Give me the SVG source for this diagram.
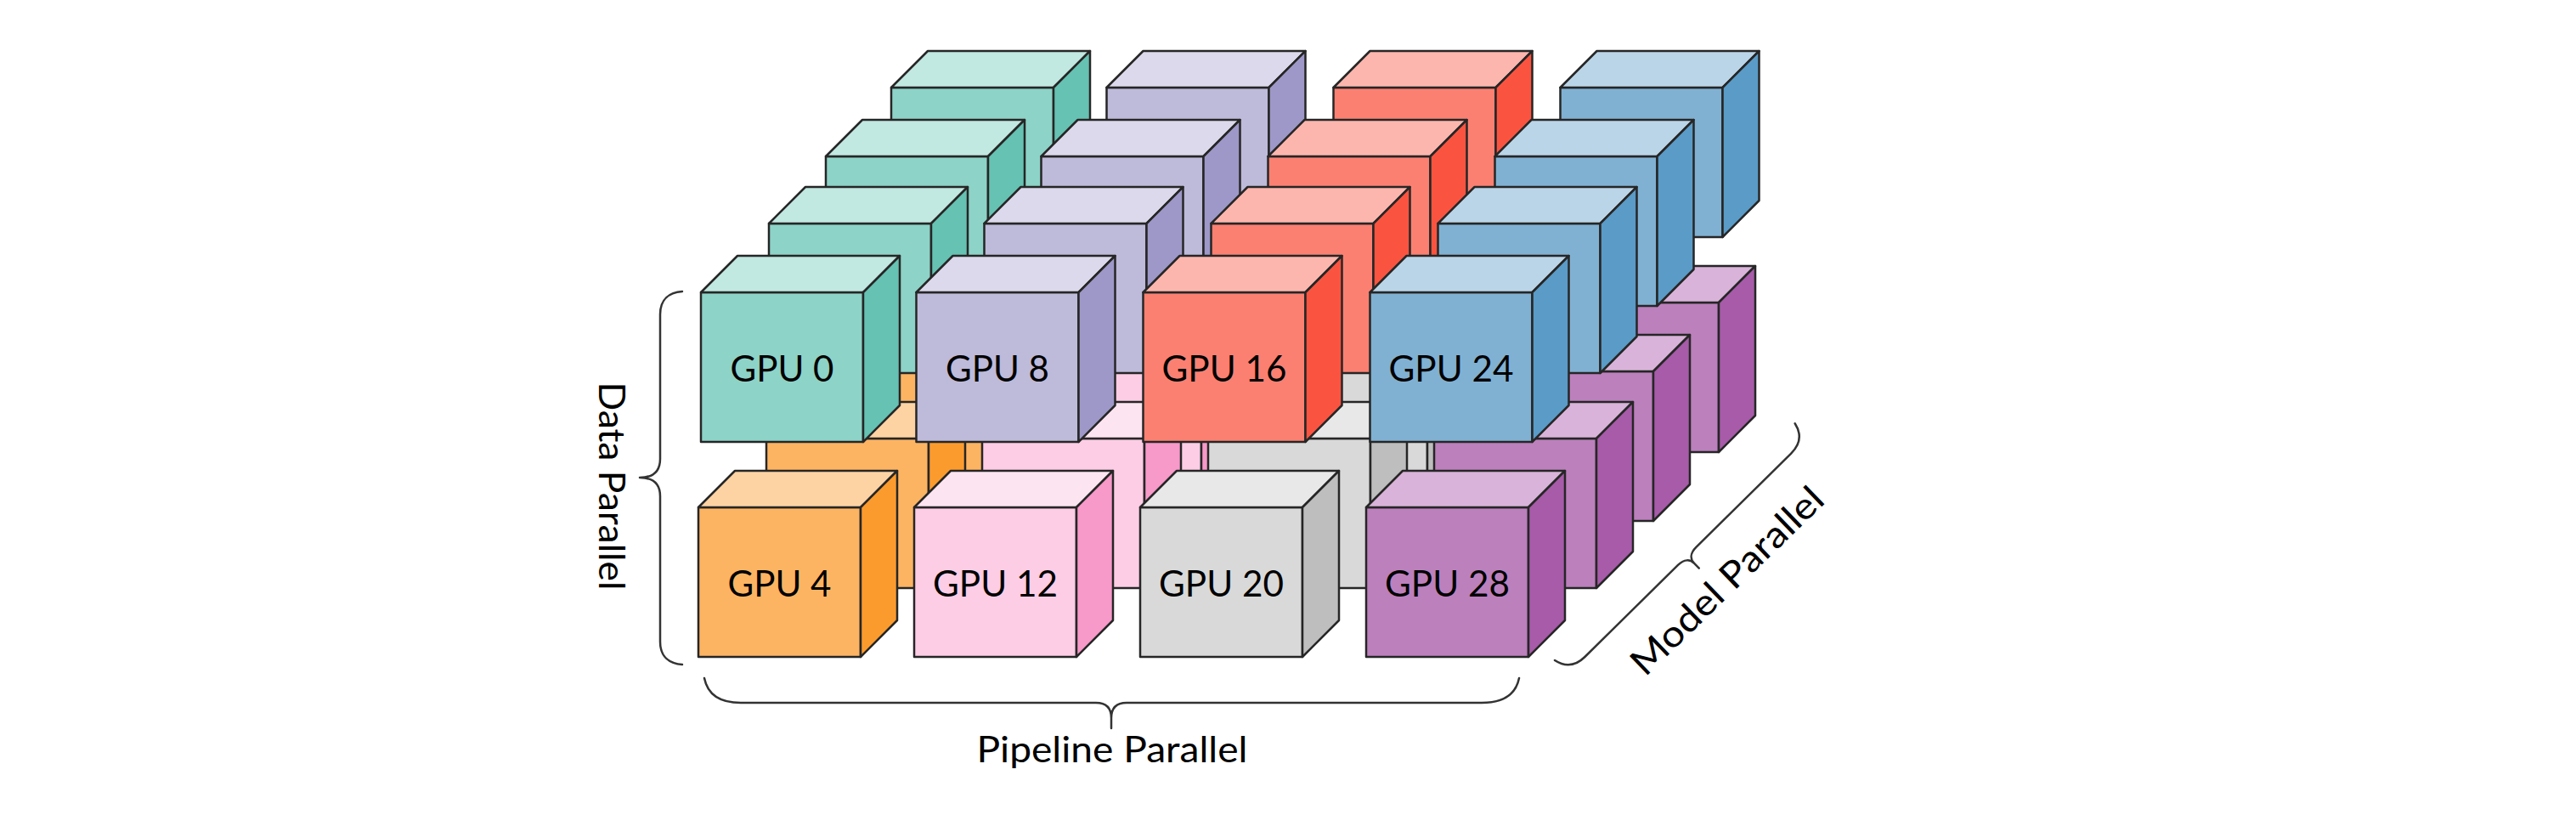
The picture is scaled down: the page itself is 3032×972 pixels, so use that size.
<svg xmlns="http://www.w3.org/2000/svg" xmlns:xlink="http://www.w3.org/1999/xlink" width="3032" height="972" viewBox="0 0 3032 972">
<defs>
<path id="cf" d="M0,0H191V176H0Z"/>
<path id="ct" d="M0,0L43,-43H234L191,0Z"/>
<path id="cs" d="M191,0L234,-43V133L191,176Z"/>
</defs>
<style>
.cube use{stroke:#262626;stroke-width:2.5;stroke-linejoin:round}
.teal .f{fill:#8DD3C7}.teal .t{fill:#C1E8E1}.teal .s{fill:#66C2B3}
.lav .f{fill:#BEBADA}.lav .t{fill:#DBD9EB}.lav .s{fill:#9E98C8}
.red .f{fill:#FB8072}.red .t{fill:#FDB6AE}.red .s{fill:#FA5441}
.blue .f{fill:#80B1D3}.blue .t{fill:#BBD5E8}.blue .s{fill:#5A9BC7}
.org .f{fill:#FDB462}.org .t{fill:#FED3A3}.org .s{fill:#FC9B2D}
.pink .f{fill:#FCCDE5}.pink .t{fill:#FDE4F1}.pink .s{fill:#F799C9}
.gray .f{fill:#D9D9D9}.gray .t{fill:#E8E8E8}.gray .s{fill:#BEBEBE}
.pur .f{fill:#BC80BD}.pur .t{fill:#D9B3D9}.pur .s{fill:#A75BA9}
.lbl{font-family:Lato,"Liberation Sans",sans-serif;font-size:43px;fill:#000;text-anchor:middle}
.brace{fill:none;stroke:#333;stroke-width:2.5;stroke-linecap:round;stroke-linejoin:round}
</style>
<rect width="3032" height="972" fill="#fff"/>
<g id="cubes">
<!-- depth 3 -->
<g id="gpu-3" class="cube teal" transform="translate(1049,103)"><use href="#cf" class="f"/><use href="#ct" class="t"/><use href="#cs" class="s"/></g>
<g id="gpu-11" class="cube lav" transform="translate(1302.5,103)"><use href="#cf" class="f"/><use href="#ct" class="t"/><use href="#cs" class="s"/></g>
<g id="gpu-19" class="cube red" transform="translate(1569.5,103)"><use href="#cf" class="f"/><use href="#ct" class="t"/><use href="#cs" class="s"/></g>
<g id="gpu-27" class="cube blue" transform="translate(1836.5,103)"><use href="#cf" class="f"/><use href="#ct" class="t"/><use href="#cs" class="s"/></g>
<g id="gpu-7" class="cube org" transform="translate(1046,356)"><use href="#cf" class="f"/><use href="#ct" class="t"/><use href="#cs" class="s"/></g>
<g id="gpu-15" class="cube pink" transform="translate(1300,356)"><use href="#cf" class="f"/><use href="#ct" class="t"/><use href="#cs" class="s"/></g>
<g id="gpu-23" class="cube gray" transform="translate(1566,356)"><use href="#cf" class="f"/><use href="#ct" class="t"/><use href="#cs" class="s"/></g>
<g id="gpu-31" class="cube pur" transform="translate(1832,356)"><use href="#cf" class="f"/><use href="#ct" class="t"/><use href="#cs" class="s"/></g>
<!-- depth 2 -->
<g id="gpu-2" class="cube teal" transform="translate(972,184)"><use href="#cf" class="f"/><use href="#ct" class="t"/><use href="#cs" class="s"/></g>
<g id="gpu-10" class="cube lav" transform="translate(1225.5,184)"><use href="#cf" class="f"/><use href="#ct" class="t"/><use href="#cs" class="s"/></g>
<g id="gpu-18" class="cube red" transform="translate(1492.5,184)"><use href="#cf" class="f"/><use href="#ct" class="t"/><use href="#cs" class="s"/></g>
<g id="gpu-26" class="cube blue" transform="translate(1759.5,184)"><use href="#cf" class="f"/><use href="#ct" class="t"/><use href="#cs" class="s"/></g>
<g id="gpu-6" class="cube org" transform="translate(969,437)"><use href="#cf" class="f"/><use href="#ct" class="t"/><use href="#cs" class="s"/></g>
<g id="gpu-14" class="cube pink" transform="translate(1223,437)"><use href="#cf" class="f"/><use href="#ct" class="t"/><use href="#cs" class="s"/></g>
<g id="gpu-22" class="cube gray" transform="translate(1489,437)"><use href="#cf" class="f"/><use href="#ct" class="t"/><use href="#cs" class="s"/></g>
<g id="gpu-30" class="cube pur" transform="translate(1755,437)"><use href="#cf" class="f"/><use href="#ct" class="t"/><use href="#cs" class="s"/></g>
<!-- depth 1 -->
<g id="gpu-1" class="cube teal" transform="translate(905,263)"><use href="#cf" class="f"/><use href="#ct" class="t"/><use href="#cs" class="s"/></g>
<g id="gpu-9" class="cube lav" transform="translate(1158.5,263)"><use href="#cf" class="f"/><use href="#ct" class="t"/><use href="#cs" class="s"/></g>
<g id="gpu-17" class="cube red" transform="translate(1425.5,263)"><use href="#cf" class="f"/><use href="#ct" class="t"/><use href="#cs" class="s"/></g>
<g id="gpu-25" class="cube blue" transform="translate(1692.5,263)"><use href="#cf" class="f"/><use href="#ct" class="t"/><use href="#cs" class="s"/></g>
<g id="gpu-5" class="cube org" transform="translate(902,516)"><use href="#cf" class="f"/><use href="#ct" class="t"/><use href="#cs" class="s"/></g>
<g id="gpu-13" class="cube pink" transform="translate(1156,516)"><use href="#cf" class="f"/><use href="#ct" class="t"/><use href="#cs" class="s"/></g>
<g id="gpu-21" class="cube gray" transform="translate(1422,516)"><use href="#cf" class="f"/><use href="#ct" class="t"/><use href="#cs" class="s"/></g>
<g id="gpu-29" class="cube pur" transform="translate(1688,516)"><use href="#cf" class="f"/><use href="#ct" class="t"/><use href="#cs" class="s"/></g>
<!-- depth 0 (front) -->
<g id="gpu-0" class="cube teal" transform="translate(825,344)"><use href="#cf" class="f"/><use href="#ct" class="t"/><use href="#cs" class="s"/><text class="lbl" x="95.5" y="105" textLength="122" lengthAdjust="spacingAndGlyphs">GPU 0</text></g>
<g id="gpu-8" class="cube lav" transform="translate(1078.5,344)"><use href="#cf" class="f"/><use href="#ct" class="t"/><use href="#cs" class="s"/><text class="lbl" x="95.5" y="105" textLength="122" lengthAdjust="spacingAndGlyphs">GPU 8</text></g>
<g id="gpu-16" class="cube red" transform="translate(1345.5,344)"><use href="#cf" class="f"/><use href="#ct" class="t"/><use href="#cs" class="s"/><text class="lbl" x="95.5" y="105" textLength="147" lengthAdjust="spacingAndGlyphs">GPU 16</text></g>
<g id="gpu-24" class="cube blue" transform="translate(1612.5,344)"><use href="#cf" class="f"/><use href="#ct" class="t"/><use href="#cs" class="s"/><text class="lbl" x="95.5" y="105" textLength="147" lengthAdjust="spacingAndGlyphs">GPU 24</text></g>
<g id="gpu-4" class="cube org" transform="translate(822,597)"><use href="#cf" class="f"/><use href="#ct" class="t"/><use href="#cs" class="s"/><text class="lbl" x="95.5" y="105" textLength="122" lengthAdjust="spacingAndGlyphs">GPU 4</text></g>
<g id="gpu-12" class="cube pink" transform="translate(1076,597)"><use href="#cf" class="f"/><use href="#ct" class="t"/><use href="#cs" class="s"/><text class="lbl" x="95.5" y="105" textLength="147" lengthAdjust="spacingAndGlyphs">GPU 12</text></g>
<g id="gpu-20" class="cube gray" transform="translate(1342,597)"><use href="#cf" class="f"/><use href="#ct" class="t"/><use href="#cs" class="s"/><text class="lbl" x="95.5" y="105" textLength="147" lengthAdjust="spacingAndGlyphs">GPU 20</text></g>
<g id="gpu-28" class="cube pur" transform="translate(1608,597)"><use href="#cf" class="f"/><use href="#ct" class="t"/><use href="#cs" class="s"/><text class="lbl" x="95.5" y="105" textLength="147" lengthAdjust="spacingAndGlyphs">GPU 28</text></g>
</g>
<g id="connectors">
<g id="data-parallel">
<path class="brace" d="M803,343 C788,344 777,352 777,370 L777,540 C777,555 768,562 753,562 C768,562 777,569 777,584 L777,755 C777,773 788,781 803,782"/>
<text class="lbl" transform="translate(705,572) rotate(90)" x="0" y="0" textLength="245" lengthAdjust="spacingAndGlyphs">Data Parallel</text>
</g>
<g id="pipeline-parallel">
<path class="brace" d="M829,798 C833,818 848,827 872,827 L1290,827 C1302,827 1308,833 1308,845 L1308,857 M1308,845 C1308,833 1314,827 1326,827 L1744,827 C1768,827 1784,818 1788,798"/>
<text class="lbl" x="1309" y="897" textLength="319" lengthAdjust="spacingAndGlyphs">Pipeline Parallel</text>
</g>
<g id="model-parallel">
<path class="brace" transform="translate(1830,777) rotate(-44.6)" d="M0,0 C3,14 12,22 28,22 L182,22 C192,22 197,27 197,34 L197,42 M197,34 C197,27 202,22 212,22 L369,22 C385,22 394,14 397,0"/>
<text class="lbl" transform="translate(2043,694) rotate(-44)" x="0" y="0" textLength="297" lengthAdjust="spacingAndGlyphs">Model Parallel</text>
</g>
</g>
</svg>
